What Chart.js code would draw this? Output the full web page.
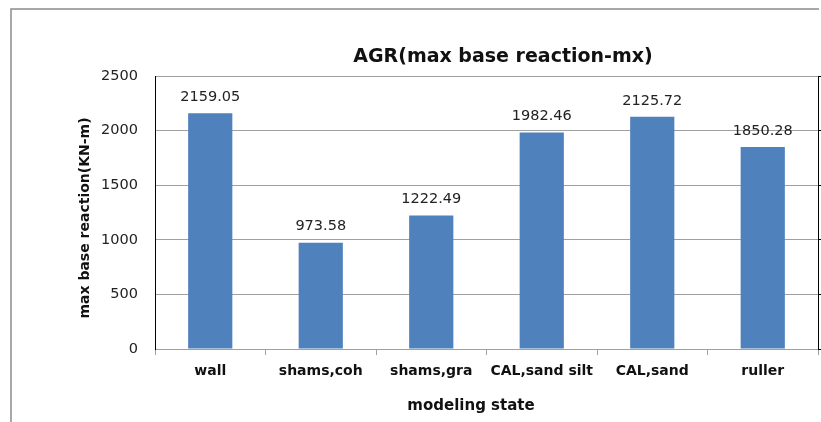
<!DOCTYPE html>
<html>
<head>
<meta charset="utf-8">
<script src="https://cdn.jsdelivr.net/npm/chart.js@4"></script>
<style>
  body { margin: 0; background: #fff; overflow: hidden; }
  canvas { display: block; }
</style>
</head>
<body>
<canvas id="chart" width="821" height="422"></canvas>
<script>
const categories = ["wall", "shams,coh", "shams,gra", "CAL,sand silt", "CAL,sand", "ruller"];
const baseReaction = [2159.05, 973.58, 1222.49, 1982.46, 2125.72, 1850.28];
const yTicks = [0, 500, 1000, 1500, 2000, 2500];

const chartTitle = "AGR(max base reaction-mx)";
const xTitle = "modeling state";
const yTitle = "max base reaction(KN-m)";

// frame, titles and value labels
const decorations = {
    id: "decorations",
    beforeDraw(chart) {
        const ctx = chart.ctx;
        ctx.save();
        ctx.strokeStyle = "#8c8c8c";
        ctx.lineWidth = 1.5;
        ctx.beginPath();
        ctx.moveTo(11, chart.height);
        ctx.lineTo(11, 9);
        ctx.lineTo(chart.width - 2, 9);
        ctx.stroke();
        ctx.restore();
    },
    afterDatasetsDraw(chart) {
        const ctx = chart.ctx;
        ctx.save();
        ctx.fillStyle = "#222";
        ctx.font = "14.5px 'DejaVu Sans'";
        ctx.textAlign = "center";
        ctx.textBaseline = "middle";
        chart.getDatasetMeta(0).data.forEach((bar, i) => {
            ctx.fillText(baseReaction[i].toFixed(2), bar.x, bar.y - 16);
        });
        ctx.restore();
    },
    afterDraw(chart) {
        const ctx = chart.ctx;
        ctx.save();
        ctx.fillStyle = "#111";
        ctx.textAlign = "center";
        ctx.textBaseline = "middle";
        ctx.font = "bold 19px 'DejaVu Sans'";
        ctx.fillText(chartTitle, 503, 57);
        ctx.font = "bold 15px 'DejaVu Sans'";
        ctx.fillText(xTitle, 471, 406);
        ctx.translate(85, 218);
        ctx.rotate(-Math.PI / 2);
        ctx.font = "bold 14px 'DejaVu Sans'";
        ctx.fillText(yTitle, 0, 0);
        ctx.restore();
    }
};

new Chart(document.getElementById("chart"), {
    type: "bar",
    data: {
        labels: categories,
        datasets: [{
            data: baseReaction,
            backgroundColor: "#4F81BD",
            borderWidth: 0,
            categoryPercentage: 1,
            barPercentage: 0.4
        }]
    },
    options: {
        responsive: false,
        animation: false,
        layout: { padding: { top: 76, left: 0, right: 0, bottom: 0 } },
        plugins: {
            legend: { display: false },
            tooltip: { enabled: false }
        },
        scales: {
            x: {
                grid: { offset: true, drawOnChartArea: false, color: "#a0a0a0", tickLength: 6 },
                border: { color: "#a0a0a0" },
                ticks: { padding: 8, color: "#111", font: { family: "DejaVu Sans", size: 14, weight: "bold" } },
                afterFit: s => { s.height = 73; }
            },
            y: {
                min: 0,
                max: 2500,
                afterBuildTicks: s => { s.ticks = yTicks.map(v => ({ value: v })); },
                grid: { color: "#a0a0a0", drawTicks: false },
                border: { color: "#000" },
                ticks: { padding: 17, color: "#222", font: { family: "DejaVu Sans", size: 14.5 }, callback: v => String(v) },
                afterFit: s => { s.width = 155; }
            },
            // right-hand axis line with small outward ticks, no labels
            y2: {
                position: "right",
                min: 0,
                max: 2500,
                afterBuildTicks: s => { s.ticks = yTicks.map(v => ({ value: v })); },
                grid: { drawOnChartArea: false, color: "#000", tickLength: 3 },
                border: { color: "#000" },
                ticks: { display: false },
                afterFit: s => { s.width = 3; }
            }
        }
    },
    plugins: [decorations]
});
</script>
</body>
</html>
